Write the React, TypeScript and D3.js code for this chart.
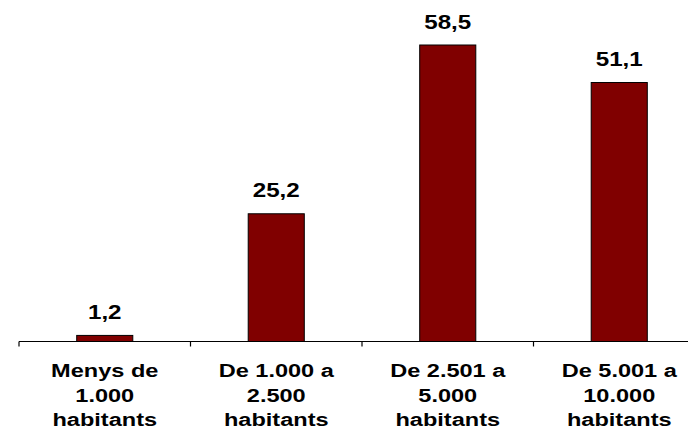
import React from "react";
import * as d3 from "d3";

const categories: string[][] = [
  ["Menys de", "1.000", "habitants"],
  ["De 1.000 a", "2.500", "habitants"],
  ["De 2.501 a", "5.000", "habitants"],
  ["De 5.001 a", "10.000", "habitants"],
];
const values: number[] = [1.2, 25.2, 58.5, 51.1];
const valueLabels: string[] = ["1,2", "25,2", "58,5", "51,1"];

const W = 688;
const H = 430;
const FONT = "'Liberation Sans', Arial, sans-serif";

export default function App() {
  const keys = categories.map((_, i) => String(i));
  const x = d3
    .scaleBand<string>()
    .domain(keys)
    .range([19, 705])
    .paddingInner(0.673)
    .paddingOuter(0.3365);
  const y = d3.scaleLinear().domain([0, 60]).range([341.5, 37.4]);
  const step = x.step();
  const axisY = y(0);
  const tickXs = d3.range(keys.length + 1).map((i) => 19 + i * step);
  const sx = 1.24;

  return (
    <svg
      width={W}
      height={H}
      style={{ position: "absolute", left: 0, top: 0, background: "#fff" }}
    >
      {values.map((v, i) => {
        const bx = x(String(i))!;
        const bw = x.bandwidth();
        const top = y(v);
        return (
          <g key={i}>
            <rect
              x={bx}
              y={top}
              width={bw}
              height={axisY - top}
              fill="#800000"
              stroke="#000"
              strokeWidth={1}
            />
            <text
              transform={`translate(${bx + bw / 2},${top - 16.5}) scale(${sx},1)`}
              textAnchor="middle"
              fontFamily={FONT}
              fontWeight="bold"
              fontSize={19.5}
              fill="#000"
            >
              {valueLabels[i]}
            </text>
          </g>
        );
      })}
      <line x1={19} x2={W} y1={axisY} y2={axisY} stroke="#000" strokeWidth={1.2} />
      {tickXs.map((tx, i) => (
        <line key={i} x1={tx} x2={tx} y1={axisY} y2={axisY + 5} stroke="#000" strokeWidth={1.2} />
      ))}
      {categories.map((lines, i) => {
        const cx = x(String(i))! + x.bandwidth() / 2;
        return (
          <g key={i}>
            {lines.map((l, j) => (
              <text
                key={j}
                transform={`translate(${cx},${377 + j * 24.5}) scale(${sx},1)`}
                textAnchor="middle"
                fontFamily={FONT}
                fontWeight="bold"
                fontSize={19}
                fill="#000"
              >
                {l}
              </text>
            ))}
          </g>
        );
      })}
    </svg>
  );
}
